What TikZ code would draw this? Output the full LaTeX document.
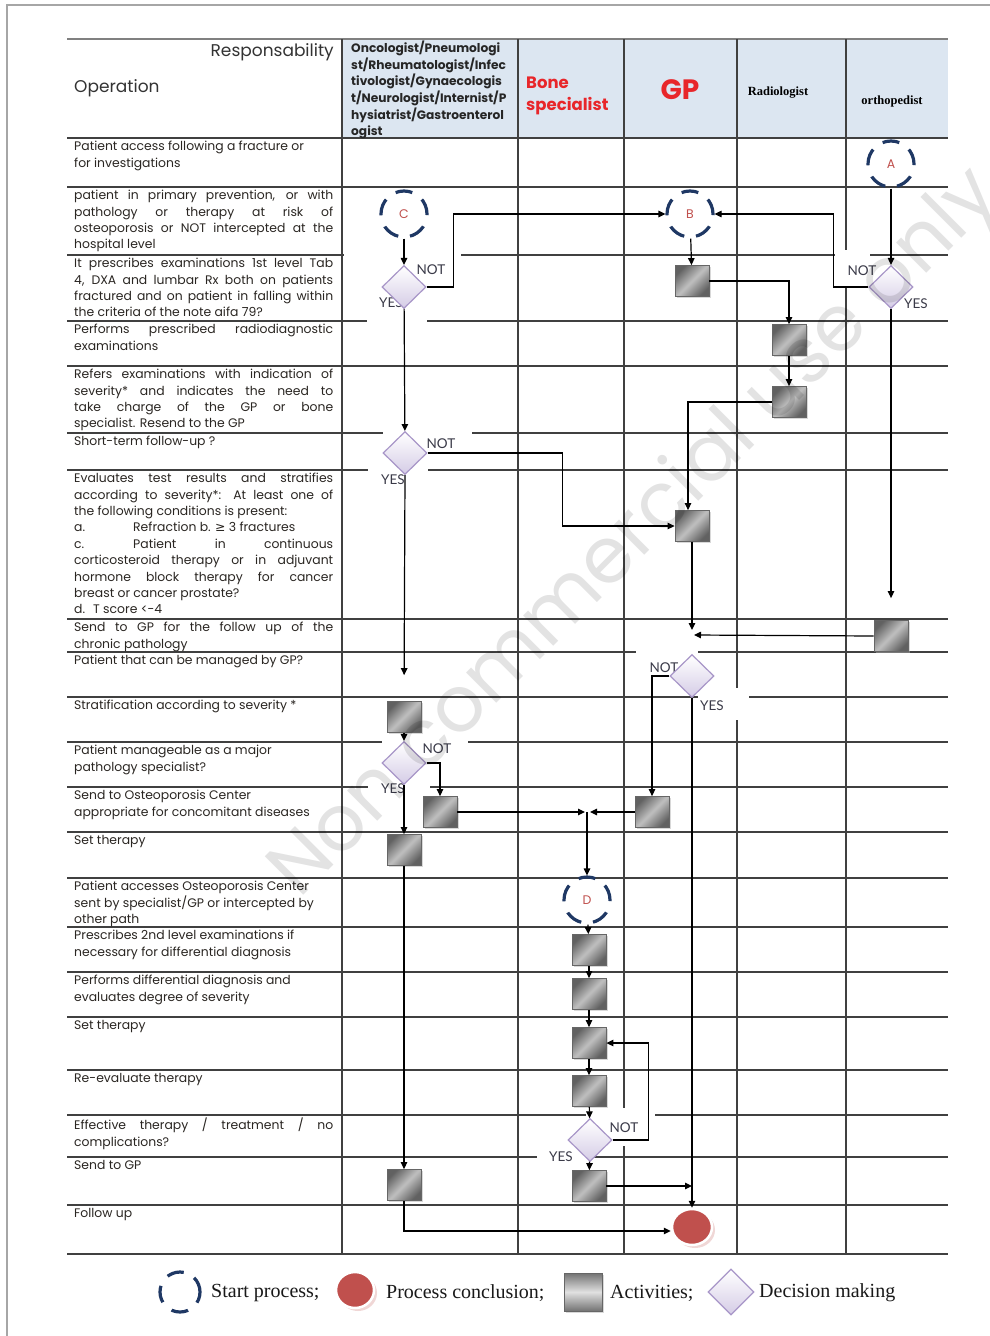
\documentclass[tikz,border=0pt]{standalone}
\usepackage{fontspec}
\setmainfont{Poppins}
\newfontfamily\gillf{Lato}
\newfontfamily\timesf{Liberation Serif}
\newfontfamily\symf{DejaVu Sans}
\usetikzlibrary{shapes.geometric,arrows.meta,shadows}
\definecolor{navy}{HTML}{1F3864}
\definecolor{hdr}{HTML}{DCE6F1}
\definecolor{gridc}{HTML}{404040}
\definecolor{redlbl}{HTML}{C0504D}
\definecolor{hred}{HTML}{E8262A}
\definecolor{diafill}{HTML}{D5CCE6}
\definecolor{diaedge}{HTML}{A896C8}
\definecolor{endred}{HTML}{C0504D}
\definecolor{txt}{HTML}{2A2622}
\definecolor{lblc}{HTML}{3A3A48}
\definecolor{wmc}{HTML}{E3E3E3}
\newcommand{\jl}[1]{\makebox[259pt][s]{#1}}
\newcommand{\bodyf}{\fontsize{12.4}{16.4}\selectfont}
\tikzset{
  gridl/.style={gridc, line width=1.1pt},
  gridtop/.style={gray, line width=2pt},
  opt/.style={anchor=north west, inner sep=0pt, align=left, font=\bodyf, text=txt},
  startc/.style={circle, draw=navy, line width=3.2pt, dash pattern=on 17pt off 11.9pt, dash phase=1.3pt, minimum size=46pt, inner sep=0pt, text=redlbl, font=\fontsize{12.5}{12.5}\selectfont},
  act/.style={rectangle, minimum width=34pt, minimum height=31pt, inner sep=0pt, draw=black!60, line width=0.8pt, top color=black!62, bottom color=black!62, middle color=black!25, shading angle=45, drop shadow={shadow xshift=1.5pt, shadow yshift=-1.5pt, fill=black!30}},
  dec/.style={diamond, minimum width=44pt, minimum height=43pt, inner sep=0pt, draw=diaedge, line width=1.2pt, top color=white, bottom color=diafill},
  endc/.style={ellipse, minimum width=40pt, minimum height=36pt, inner sep=0pt, fill=endred, draw=white, line width=2.5pt, drop shadow={shadow xshift=3pt, shadow yshift=-3pt, fill=endred!45}},
  arr/.style={-{Triangle[length=7pt,width=6.5pt]}, line width=1.2pt, black},
  lbl/.style={font=\gillf\fontsize{13.5}{13.5}\selectfont, text=lblc, inner sep=0pt},
  mask/.style={white},
  leg/.style={anchor=west, inner sep=0pt, font=\timesf\fontsize{20}{20}\selectfont, text=black!90}
}
\begin{document}
\begin{tikzpicture}[x=1pt,y=-1pt]
\useasboundingbox (0,0) rectangle (990,1336);
\fill[white] (0,0) rectangle (990,1336);
% page frame
\draw[gray!70, line width=1.5pt] (7,1336) -- (7,5) -- (990,5);
% header background
\fill[hdr] (342,39) rectangle (948,138);
% grid
\foreach \y in {138,187,255,321,366,433,470,619,652,697,742,787,832,878,927,972,1017,1070,1115,1157,1205,1254}
  \draw[gridl] (67,\y) -- (948,\y);
\draw[gridtop] (67,39) -- (948,39);
\foreach \x in {342,518,624,737,846}
  \draw[gridl] (\x,39) -- (\x,1254);
% gaps behind labels
\fill[mask] (344,251) rectangle (461,259);
\fill[mask] (835,250) rectangle (870,286);
\fill[mask] (367,317) rectangle (427,325);
\fill[mask] (383,429) rectangle (472,437);
\fill[mask] (368,466) rectangle (428,474);
\fill[mask] (636,648) rectangle (698,656);
\fill[mask] (698,688) rectangle (749,720);
\fill[mask] (382,738) rectangle (468,746);
\fill[mask] (368,783) rectangle (430,791);
\fill[mask] (586,1111) rectangle (655,1119);
\fill[mask] (612,1108) rectangle (655,1146);
\fill[mask] (537,1153) rectangle (590,1161);

% header texts
\node[anchor=east, inner sep=0pt, font=\fontsize{17}{17}\selectfont, text=black!80] (hresp) at (334,52) {Responsability};
\node[anchor=west, inner sep=0pt, font=\fontsize{17}{17}\selectfont, text=black!80] (hop) at (74,88) {Operation};
\node[anchor=north west, inner sep=0pt, align=left, font=\bfseries\fontsize{12.2}{16.6}\selectfont, text=black!85] (honc) at (351,41)
  {Oncologist/Pneumologi\\st/Rheumatologist/Infec\\tivologist/Gynaecologis\\t/Neurologist/Internist/P\\hysiatrist/Gastroenterol\\ogist};
\node[anchor=west, inner sep=0pt, align=left, text=hred, font=\bfseries\fontsize{16.5}{21.5}\selectfont] (hbone) at (526,96) {Bone\\specialist};
\node[text=hred, inner sep=0pt, font=\bfseries\fontsize{28}{28}\selectfont] (hgp) at (680,90) {GP};
\node[inner sep=0pt, font=\timesf\bfseries\fontsize{12.5}{12.5}\selectfont] (hrad) at (778,93) {Radiologist};
\node[inner sep=0pt, font=\timesf\bfseries\fontsize{12.5}{12.5}\selectfont] (hort) at (892,101) {orthopedist};

% operation texts
\node[opt] (t2) at (74,141) {Patient access following a fracture or\\for investigations};
\node[opt] (t3) at (74,190) {\jl{patient in primary prevention, or with}\\\jl{pathology or therapy at risk of}\\\jl{osteoporosis or NOT intercepted at the}\\hospital level};
\node[opt] (t4) at (74,258) {\jl{It prescribes examinations 1st level Tab}\\\jl{4, DXA and lumbar Rx both on patients}\\\jl{fractured and on patient in falling within}\\the criteria of the note aifa 79?};
\node[opt] (t5) at (74,324) {\jl{Performs prescribed radiodiagnostic}\\examinations};
\node[opt] (t6) at (74,369) {\jl{Refers examinations with indication of}\\\jl{severity* and indicates the need to}\\\jl{take charge of the GP or bone}\\specialist. Resend to the GP};
\node[opt] (t7) at (74,436) {Short-term follow-up ?};
\node[opt] (t8) at (74,473) {\jl{Evaluates test results and stratifies}\\\jl{according to severity*: At least one of}\\the following conditions is present:\\\makebox[59pt][l]{a.}Refraction b. {\symf ≥} 3 fractures\\\makebox[59pt][l]{c.}\makebox[200pt][s]{Patient in continuous}\\\jl{corticosteroid therapy or in adjuvant}\\\jl{hormone block therapy for cancer}\\breast or cancer prostate?\\d.\hspace{8pt}T score <-4};
\node[opt] (t9) at (74,622) {\jl{Send to GP for the follow up of the}\\chronic pathology};
\node[opt] (t10) at (74,655) {Patient that can be managed by GP?};
\node[opt] (t11) at (74,700) {Stratification according to severity *};
\node[opt] (t12) at (74,745) {Patient manageable as a major\\pathology specialist?};
\node[opt] (t13) at (74,790) {Send to Osteoporosis Center\\appropriate for concomitant diseases};
\node[opt] (t14) at (74,835) {Set therapy};
\node[opt] (t15) at (74,881) {Patient accesses Osteoporosis Center\\sent by specialist/GP or intercepted by\\other path};
\node[opt] (t16) at (74,930) {Prescribes 2nd level examinations if\\necessary for differential diagnosis};
\node[opt] (t17) at (74,975) {Performs differential diagnosis and\\evaluates degree of severity};
\node[opt] (t18) at (74,1020) {Set therapy};
\node[opt] (t19) at (74,1073) {Re-evaluate therapy};
\node[opt] (t20) at (74,1118) {\jl{Effective therapy / treatment / no}\\complications?};
\node[opt] (t21) at (74,1160) {Send to GP};
\node[opt] (t22) at (74,1208) {Follow up};

% decision labels
\node[lbl] (n1) at (431,270) {NOT};
\node[lbl] (y1) at (391,303) {YES};
\node[lbl] (n2) at (862,271) {NOT};
\node[lbl] (y2) at (916,304) {YES};
\node[lbl] (n3) at (441,444) {NOT};
\node[lbl] (y3) at (393,480) {YES};
\node[lbl] (n4) at (664,668) {NOT};
\node[lbl] (y4) at (712,706) {YES};
\node[lbl] (n5) at (437,749) {NOT};
\node[lbl] (y5) at (393,789) {YES};
\node[lbl] (n6) at (624,1128) {NOT};
\node[lbl] (y6) at (561,1157) {YES};

% flow nodes
\node[startc] (A) at (891,164) {A};
\node[startc] (B) at (690,214) {B};
\node[startc] (C) at (404,214) {C};
\node[startc] (D) at (587,900) {D};
\node[dec] (d1) at (404,287) {};
\node[dec] (d2) at (891,287) {};
\node[dec] (d3) at (405,453) {};
\node[dec] (d4) at (692,676) {};
\node[dec] (d5) at (404,763) {};
\node[dec] (d6) at (590,1140) {};
\node[act] (b1) at (692,281) {};
\node[act] (r1) at (789,340) {};
\node[act] (r2) at (789,402) {};
\node[act] (g1) at (692,526) {};
\node[act] (o1) at (891,636) {};
\node[act] (s1) at (404,717) {};
\node[act] (s2) at (440,812) {};
\node[act] (g2) at (652,812) {};
\node[act] (s3) at (404,850) {};
\node[act] (s4) at (404,1185) {};
\node[act] (k1) at (589,950) {};
\node[act] (k2) at (589,994) {};
\node[act] (k3) at (589,1043) {};
\node[act] (k4) at (589,1091) {};
\node[act] (k5) at (589,1186) {};
\node[endc] (E) at (692,1227) {};
\coordinate (j1) at (692,630);
\coordinate (j2) at (694,635);
\coordinate (j3) at (587,812);
\coordinate (j4) at (692,1186);

% connectors
\draw[arr] (A) -- (d2);
\draw[arr] (C) -- (d1);
\draw[arr] (d1.east) -- ++(27,0) |- (B.west);
\draw[arr] (d2.west) -- ++(-35,0) |- (B.east);
\draw[arr] (B) -- (b1);
\draw[arr] (b1.east) -| (r1.north);
\draw[arr] (r1) -- (r2);
\draw[arr] (r2.west) -| ([xshift=-4pt]g1.north);
\draw[arr] (d1) -- (d3);
\draw[arr] (d3.east) -- ++(135,0) |- (g1.west);
\draw[arr] (g1.south) -- (j1);
\draw[arr] (o1.west) -- (j2);
\draw[arr, shorten >=22pt] (d2.south) -- (o1.north);
\draw[arr, shorten >=26pt] (d3.south) -- (s1.north);
\draw[arr] (s1) -- (d5);
\draw[arr] (d5.east) -| (s2.north);
\draw[arr] (d5) -- (s3);
\draw[arr] (d4.west) -| (g2.north);
\draw[arr, shorten >=2pt] (s2.east) -- (j3);
\draw[arr, shorten >=3pt] (g2.west) -- (j3);
\draw[arr] (j3) -- (D.north);
\draw[arr] (D) -- (k1);
\draw[arr] (k1) -- (k2);
\draw[arr] (k2) -- (k3);
\draw[arr] (k3) -- (k4);
\draw[arr] (k4) -- (d6);
\draw[arr] (d6.east) -- ++(36,0) |- (k3.east);
\draw[arr] (d6) -- (k5);
\draw[arr] (k5.east) -- (j4);
\draw[arr] (d4.south) -- (E.north);
\draw[arr] (s3) -- (s4);
\draw[arr] (s4.south) |- ([yshift=-4pt]E.west);

% legend
\node[startc, minimum size=40pt] (L1) at (180,1292) {};
\node[leg] (L1t) at (211,1293) {Start process;};
\node[endc, minimum width=38pt, minimum height=36pt] (L2) at (355,1290) {};
\node[leg] (L2t) at (386,1293) {Process conclusion;};
\node[act, minimum width=38pt, minimum height=38pt, top color=black!55, bottom color=black!55, middle color=black!12] (L3) at (583,1292) {};
\node[leg] (L3t) at (610,1293) {Activities;};
\node[dec, minimum width=46pt, minimum height=46pt] (L4) at (731,1292) {};
\node[leg] (L4t) at (759,1293) {Decision making};

% watermark
\node[rotate=45, text=black, text opacity=0.11, inner sep=0pt, font=\fontsize{78}{78}\selectfont] (wm) at (637,535) {Non commercial use only};
\end{tikzpicture}
\end{document}
